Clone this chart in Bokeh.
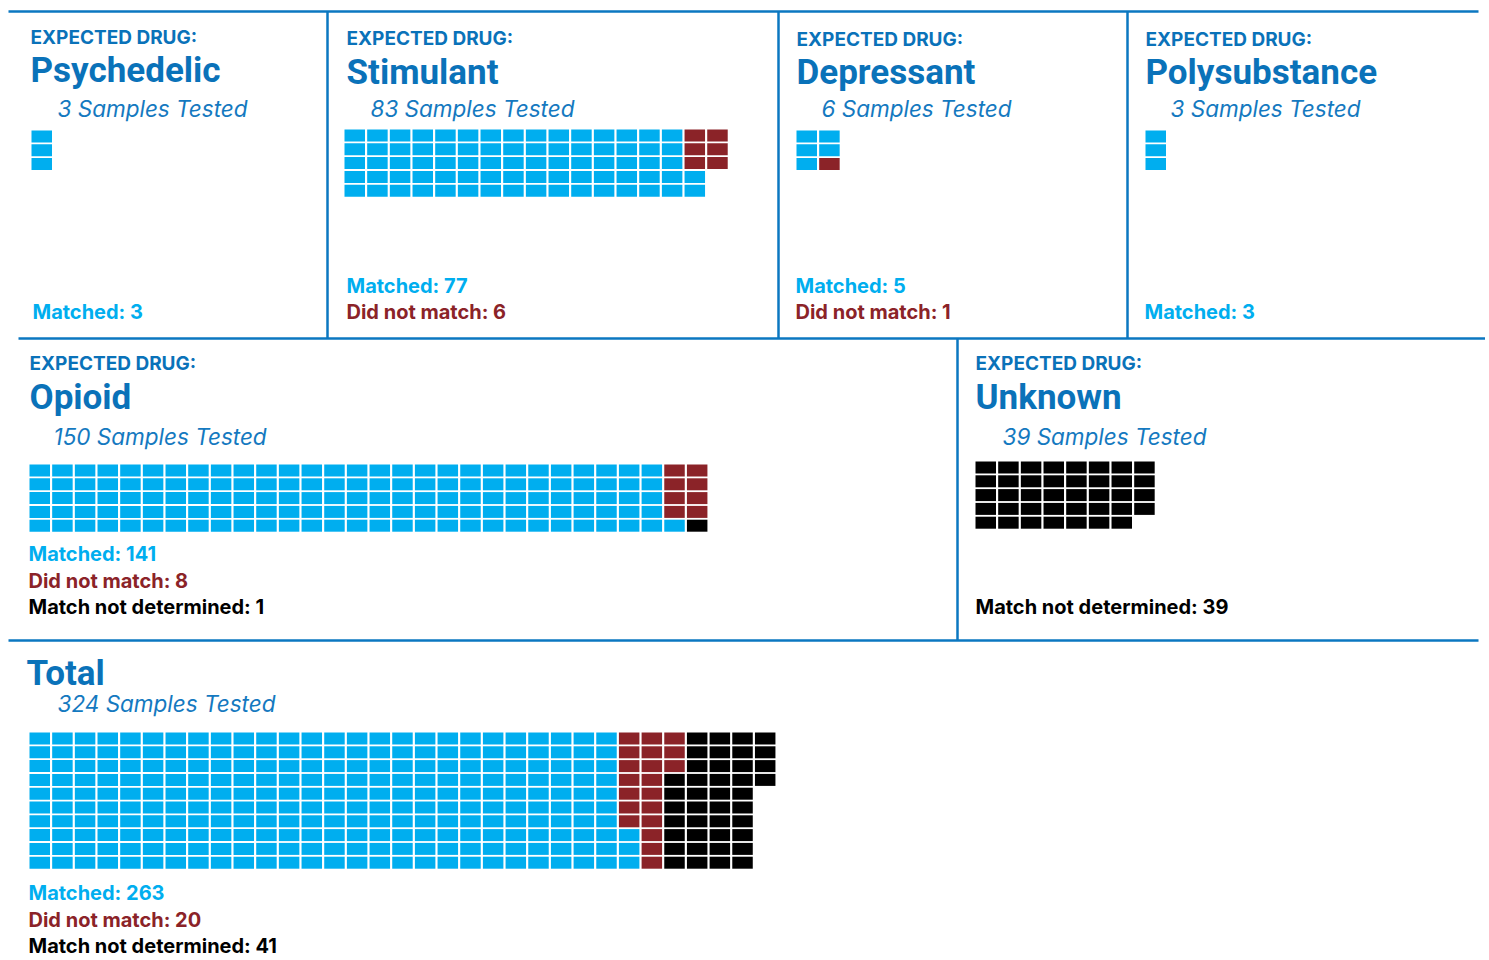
import math
from bokeh.plotting import figure
from bokeh.models import Range1d, ColumnDataSource
from bokeh.embed import file_html
from bokeh.resources import INLINE
from bokeh.core.properties import value

# ---------------- data ----------------
drugs = ["Psychedelic", "Stimulant", "Depressant", "Polysubstance", "Opioid", "Unknown"]
matched = [3, 77, 5, 3, 141, 0]
not_matched = [0, 6, 1, 0, 8, 0]
undetermined = [0, 0, 0, 0, 1, 39]

total_title = "Total"
total_matched = 263
total_not_matched = 20
total_undetermined = 41

category_labels = ["Matched", "Did not match", "Match not determined"]
header_text = "EXPECTED DRUG:"

# ---------------- styles / layout ----------------
TITLE_FONT = "Roboto"
TEXT_FONT = "Inter"
CAT_COLORS = ["#00aeef", "#8b2328", "#000000"]
TITLE_BLUE = "#0a72b9"
SUB_BLUE = "#1479c0"
LINE_BLUE = "#0b77c1"

PX, PY = 22.67, 13.8     # cell pitch
CW, CH = 20.5, 12.0      # cell size
LABEL_STEP = 26.5

# vertical nudges so the rendered baselines land where intended
HDR_DY, TITLE_DY, SUB_DY, LAB_DY = -7.5, -11.5, -10, -8.5

# per panel: text x, header baseline, title baseline, subtitle x, subtitle baseline,
# waffle x, waffle y, rows, fill order, label x, last label baseline
layout = {
    "Psychedelic":   dict(x=30,   hb=44,  tb=81,  sx=57,   sb=118, wx=31,   wy=130, rows=5, fill="col", lx=32,   lb=320),
    "Stimulant":     dict(x=346,  hb=45,  tb=83,  sx=370,  sb=118, wx=344,  wy=129, rows=5, fill="col", lx=346,  lb=320),
    "Depressant":    dict(x=796,  hb=46,  tb=83,  sx=821,  sb=118, wx=796,  wy=130, rows=3, fill="row", lx=795,  lb=320),
    "Polysubstance": dict(x=1145, hb=46,  tb=83,  sx=1170, sb=118, wx=1145, wy=130, rows=5, fill="col", lx=1144, lb=320),
    "Opioid":        dict(x=29,   hb=370, tb=408, sx=53,   sb=446, wx=29,   wy=464, rows=5, fill="col", lx=28,   lb=615),
    "Unknown":       dict(x=975,  hb=370, tb=408, sx=1002, sb=446, wx=975,  wy=461, rows=5, fill="col", lx=975,  lb=615),
    "Total":         dict(x=26,   hb=None, tb=684, sx=57,  sb=713, wx=29,   wy=732, rows=10, fill="col", lx=28,  lb=954),
}

rules = [  # (x0, y0, x1, y1)
    (8, 11, 1478, 11),
    (327, 11, 327, 338),
    (778, 11, 778, 338),
    (1127, 11, 1127, 338),
    (18, 338, 1488, 338),
    (957, 338, 957, 640),
    (8, 640, 1478, 640),
]

PRIORITY = {1: 0, 0: 1, 2: 2}  # within a column: "did not match" on top


def waffle_cells(counts, rows, fill):
    seq = [k for k, c in enumerate(counts) for _ in range(c)]
    n = len(seq)
    ncols = math.ceil(n / rows)
    cells = []
    if fill == "row":
        for i, k in enumerate(seq):
            cells.append((i % ncols, i // ncols, k))
    else:
        for c in range(ncols):
            col = sorted(seq[c * rows:(c + 1) * rows], key=lambda k: PRIORITY[k])
            for r, k in enumerate(col):
                cells.append((c, r, k))
    return cells


W, H = 1485, 958
p = figure(width=W, height=H, x_range=Range1d(0, W), y_range=Range1d(H, 0),
           output_backend="svg", toolbar_location=None,
           x_axis_location=None, y_axis_location=None, min_border=0)
p.grid.visible = False
p.outline_line_color = None
p.background_fill_color = "white"
p.border_fill_color = "white"

# panel rules
p.segment(x0=[r[0] for r in rules], y0=[r[1] for r in rules],
          x1=[r[2] for r in rules], y1=[r[3] for r in rules],
          line_color=LINE_BLUE, line_width=2.5)

panels = list(zip(drugs, matched, not_matched, undetermined))
panels.append((total_title, total_matched, total_not_matched, total_undetermined))

L, R, T, B, C = [], [], [], [], []
for name, m, nm, ud in panels:
    lay = layout[name]
    counts = [m, nm, ud]
    for c, r, k in waffle_cells(counts, lay["rows"], lay["fill"]):
        x0 = lay["wx"] + c * PX
        y0 = lay["wy"] + r * PY
        L.append(x0); R.append(x0 + CW); T.append(y0); B.append(y0 + CH)
        C.append(CAT_COLORS[k])

    # texts
    if lay["hb"] is not None:
        p.text(x=[lay["x"]], y=[lay["hb"] + HDR_DY], text=[header_text], text_font=value(TEXT_FONT),
               text_font_size="19px", text_font_style="bold", text_color=TITLE_BLUE,
               text_baseline="alphabetic", text_align="left")
    p.text(x=[lay["x"]], y=[lay["tb"] + TITLE_DY], text=[name], text_font=value(TITLE_FONT),
           text_font_size="35px", text_font_style="bold", text_color=TITLE_BLUE,
           text_baseline="alphabetic", text_align="left")
    p.text(x=[lay["sx"]], y=[lay["sb"] + SUB_DY], text=[f"{sum(counts)} Samples Tested"],
           text_font=value(TEXT_FONT), text_font_size="22.5px", text_font_style="italic",
           text_color=SUB_BLUE, text_baseline="alphabetic", text_align="left")

    lines = [(f"{lab}: {v}", col) for lab, v, col in zip(category_labels, counts, CAT_COLORS) if v > 0]
    nl = len(lines)
    for i, (t, col) in enumerate(lines):
        p.text(x=[lay["lx"]], y=[lay["lb"] + LAB_DY - (nl - 1 - i) * LABEL_STEP], text=[t],
               text_font=value(TEXT_FONT), text_font_size="20px", text_font_style="bold",
               text_color=col, text_baseline="alphabetic", text_align="left")

src = ColumnDataSource(dict(left=L, right=R, top=T, bottom=B, color=C))
p.quad(left="left", right="right", top="top", bottom="bottom", fill_color="color",
       line_color=None, source=src)

open("out.html", "w").write(file_html(p, INLINE))
